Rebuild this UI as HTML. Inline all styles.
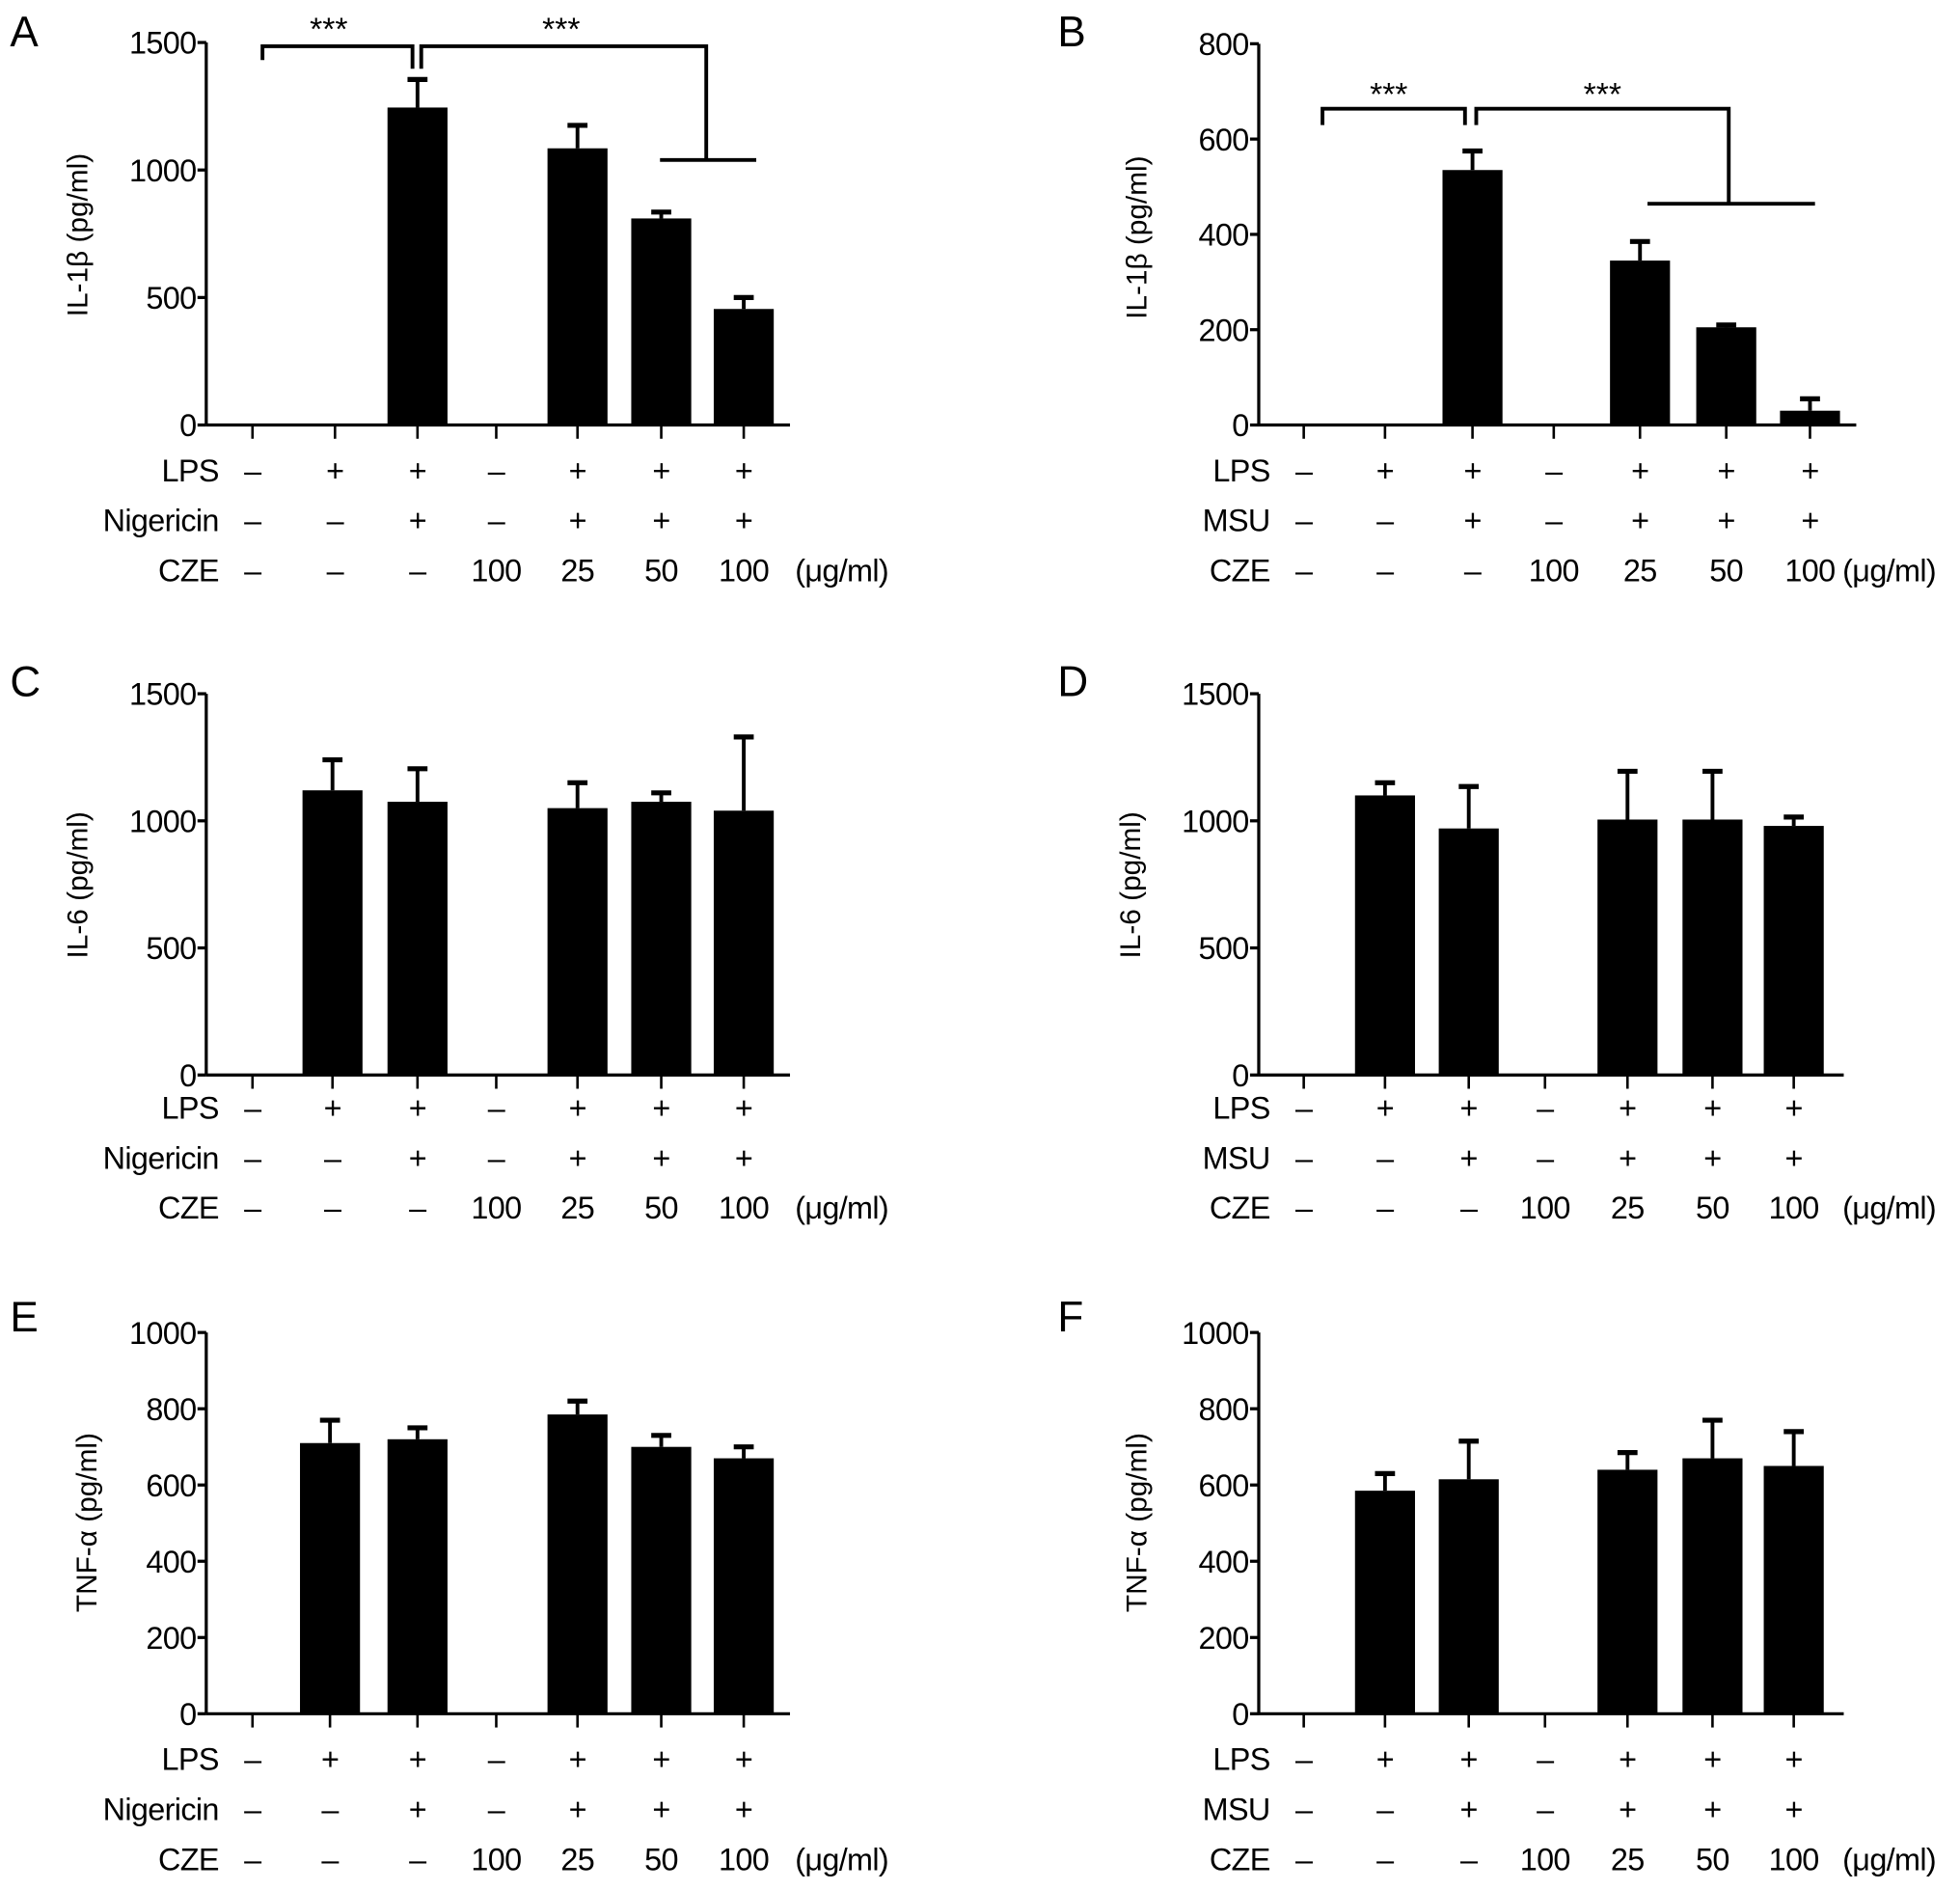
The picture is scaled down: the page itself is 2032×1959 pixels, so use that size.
<!DOCTYPE html>
<html><head><meta charset="utf-8">
<style>
html,body{margin:0;padding:0;background:#fff;}
svg{display:block;}
text{font-family:"Liberation Sans",sans-serif;fill:#000;}
</style></head>
<body>
<svg id="fig" width="2032" height="1959" viewBox="0 0 1568 1512" preserveAspectRatio="none" xmlns="http://www.w3.org/2000/svg"></svg>
<script>
// ---- data ----
const categories = ["ctrl","LPS","LPS+stim","CZE100","CZE25","CZE50","CZE100+"];
const valsA = [0,0,1245,0,1085,810,455];
const errA  = [0,0,110,0,90,25,45];
const valsB = [0,0,535,0,345,205,30];
const errB  = [0,0,40,0,40,5,25];
const valsC = [0,1120,1075,0,1050,1075,1040];
const errC  = [0,120,130,0,100,35,290];
const valsD = [0,1100,970,0,1005,1005,980];
const errD  = [0,50,165,0,190,190,35];
const valsE = [0,710,720,0,785,700,670];
const errE  = [0,60,30,0,35,30,30];
const valsF = [0,585,615,0,640,670,650];
const errF  = [0,45,100,0,45,100,90];
const ticksA = [0,500,1000,1500];
const ticksB = [0,200,400,600,800];
const ticksC = [0,500,1000,1500];
const ticksD = [0,500,1000,1500];
const ticksE = [0,200,400,600,800,1000];
const ticksF = [0,200,400,600,800,1000];
const lpsRow = ["–","+","+","–","+","+","+"];
const stimRow = ["–","–","+","–","+","+","+"];
const czeRow = ["–","–","–","100","25","50","100"];

const NS="http://www.w3.org/2000/svg";
const svg=document.getElementById('fig');
function mk(tag,attrs,parent){const e=document.createElementNS(NS,tag);for(const k in attrs)e.setAttribute(k,attrs[k]);(parent||svg).appendChild(e);return e;}

const panels=[
 {id:'a',letter:'A',lx:8,ly:37,ax:165,y0:340,yTop:34,max:1500,xEnd:632,cx:[202,268,334,397,462,529,595],vals:valsA,errs:errA,ticks:ticksA,title:'IL-1β (pg/ml)',tx:70,ty:188,stim:'Nigericin',rowY:376,unitX:636},
 {id:'b',letter:'B',lx:846,ly:37,ax:1007,y0:340,yTop:35,max:800,xEnd:1485,cx:[1043,1108,1178,1243,1312,1381,1448],vals:valsB,errs:errB,ticks:ticksB,title:'IL-1β (pg/ml)',tx:917,ty:190,stim:'MSU',rowY:376,unitX:1474},
 {id:'c',letter:'C',lx:8,ly:557,ax:165,y0:860,yTop:555,max:1500,xEnd:632,cx:[202,266,334,397,462,529,595],vals:valsC,errs:errC,ticks:ticksC,title:'IL-6 (pg/ml)',tx:70,ty:708,stim:'Nigericin',rowY:886,unitX:636},
 {id:'d',letter:'D',lx:846,ly:557,ax:1007,y0:860,yTop:555,max:1500,xEnd:1475,cx:[1043,1108,1175,1236,1302,1370,1435],vals:valsD,errs:errD,ticks:ticksD,title:'IL-6 (pg/ml)',tx:912,ty:708,stim:'MSU',rowY:886,unitX:1474},
 {id:'e',letter:'E',lx:8,ly:1065,ax:165,y0:1371,yTop:1066,max:1000,xEnd:632,cx:[202,264,334,397,462,529,595],vals:valsE,errs:errE,ticks:ticksE,title:'TNF-α (pg/ml)',tx:77,ty:1218,stim:'Nigericin',rowY:1407,unitX:636},
 {id:'f',letter:'F',lx:846,ly:1065,ax:1007,y0:1371,yTop:1066,max:1000,xEnd:1475,cx:[1043,1108,1175,1236,1302,1370,1435],vals:valsF,errs:errF,ticks:ticksF,title:'TNF-α (pg/ml)',tx:917,ty:1218,stim:'MSU',rowY:1407,unitX:1474}
];

panels.forEach(p=>{
  const g=mk('g',{});
  
  
  const y=v=>p.y0-(v/p.max)*(p.y0-p.yTop);
  const L=mk('text',{x:p.lx,y:p.ly,'font-size':34},g);L.textContent=p.letter;
  
  
  const ya=mk('line',{x1:p.ax,y1:p.yTop,x2:p.ax,y2:p.y0,stroke:'#000','stroke-width':2.5},g);
  
  
  p.ticks.forEach(t=>{
    mk('line',{x1:p.ax-7,y1:y(t),x2:p.ax,y2:y(t),stroke:'#000','stroke-width':2.5},g);
    const tl=mk('text',{x:p.ax-8,y:y(t)+9,'font-size':25,'text-anchor':'end','letter-spacing':-0.5},g);tl.textContent=t;
    
    
  });
  const tt=mk('text',{x:0,y:0,'font-size':23,'text-anchor':'middle',transform:`translate(${p.tx},${p.ty}) rotate(-90)`},g);
  tt.textContent=p.title;
  
  
  const xa=mk('line',{x1:p.ax,y1:p.y0,x2:p.xEnd,y2:p.y0,stroke:'#000','stroke-width':2.5},g);
  
  
  const bw=48;
  categories.forEach((c,i)=>{
    const x=p.cx[i];
    mk('line',{x1:x,y1:p.y0,x2:x,y2:p.y0+11,stroke:'#000','stroke-width':2},g);
    const v=p.vals[i],e=p.errs[i];
    if(v>0){
      const top=y(v+e);
      mk('line',{x1:x,y1:y(v),x2:x,y2:top,stroke:'#000','stroke-width':3},g);
      mk('line',{x1:x-8,y1:top,x2:x+8,y2:top,stroke:'#000','stroke-width':4},g);
      const r=mk('rect',{x:x-bw/2,y:y(v),width:bw,height:p.y0-y(v),fill:'#000'},g);
      
      
    }
    [[lpsRow,0],[stimRow,40],[czeRow,80]].forEach(([row,dy])=>{
      const t=mk('text',{x:x,y:p.rowY+dy+9,'font-size':25,'text-anchor':'middle','letter-spacing':-0.5},g);
      t.textContent=row[i];
      
      
    });
  });
  const rx=p.cx[0]-27;
  ['LPS',p.stim,'CZE'].forEach((n,k)=>{
    const t=mk('text',{x:rx,y:p.rowY+k*40+9,'font-size':25,'text-anchor':'end','letter-spacing':-0.5},g);
    t.textContent=n;
    
    
  });
  const u=mk('text',{x:p.unitX,y:p.rowY+89,'font-size':25,'letter-spacing':-0.5},g);u.textContent='(μg/ml)';
  
  
});

function bracket(pts,id){const pl=mk('polyline',{points:pts,fill:'none',stroke:'#000','stroke-width':3});
  
  }
function stars(x,y,id){const t=mk('text',{x:x,y:y,'font-size':26,'text-anchor':'middle'});t.textContent='***';
  
  }
bracket('210,48 210,37 330,37 330,55','bracket-a-1');
bracket('337,55 337,37 565,37 565,128','bracket-a-2');
bracket('528,128 605,128','bracket-a-2-base');
stars(263,32,'sig-a-1');stars(449,32,'sig-a-2');
bracket('1058,100 1058,87 1172,87 1172,100','bracket-b-1');
bracket('1181,100 1181,87 1383,87 1383,163','bracket-b-2');
bracket('1318,163 1452,163','bracket-b-2-base');
stars(1111,84,'sig-b-1');stars(1282,84,'sig-b-2');
</script>
</body></html>
